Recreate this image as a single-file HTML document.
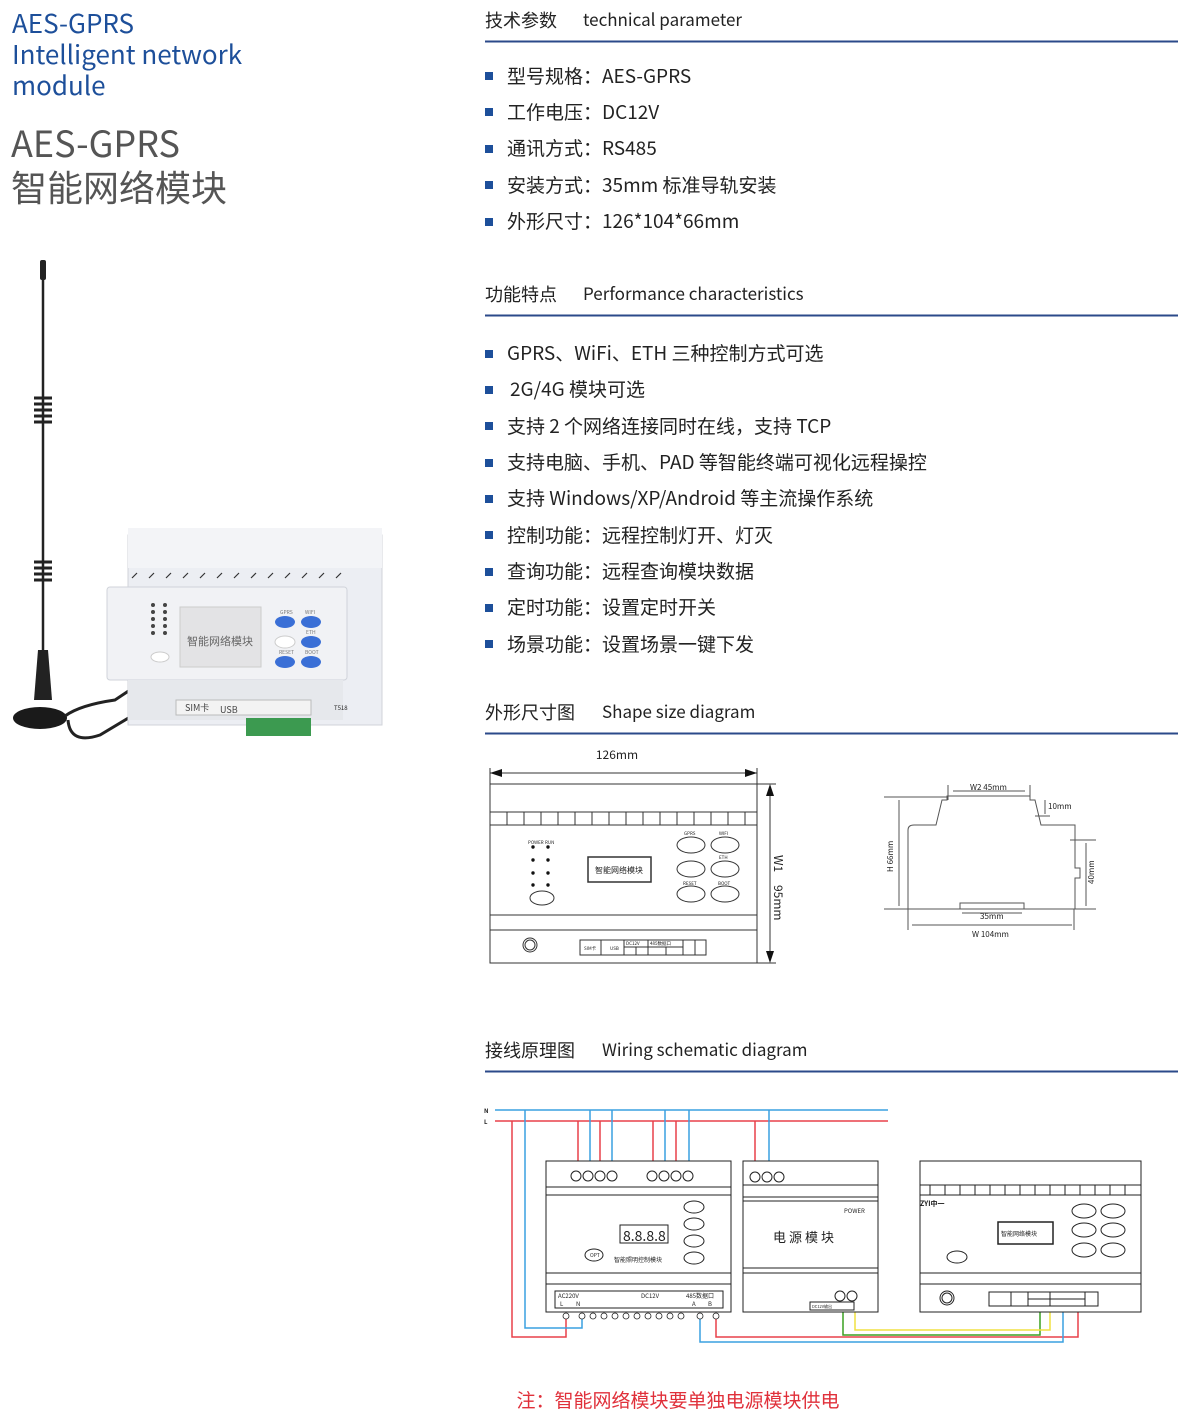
<!DOCTYPE html>
<html><head><meta charset="utf-8">
<style>
html,body{margin:0;padding:0;background:#fff;}
svg{display:block;}
text{font-family:"Noto Sans CJK SC","Liberation Sans",sans-serif;}
</style></head><body>
<svg width="1190" height="1421" viewBox="0 0 1190 1421" xmlns="http://www.w3.org/2000/svg">
<!-- Left titles -->
<g fill="#1d4f9a" font-size="26">
<text x="12" y="33">AES-GPRS</text>
<text x="12" y="64">Intelligent network</text>
<text x="12" y="95">module</text>
</g>
<g fill="#555" font-size="36">
<text x="11" y="157">AES-GPRS</text>
<text x="11" y="201">智能网络模块</text>
</g>

<!-- Product photo -->
<g>
<line x1="43" y1="262" x2="43" y2="700" stroke="#222" stroke-width="2.5"/>
<rect x="40" y="260" width="6" height="20" rx="2" fill="#222"/>
<g stroke="#222" stroke-width="3" fill="none">
<path d="M34 398 h18 M34 404 h18 M34 410 h18 M34 416 h18 M34 422 h18"/>
<path d="M34 562 h18 M34 568 h18 M34 574 h18 M34 580 h18"/>
</g>
<path d="M38 650 L48 650 L52 700 L34 700 Z" fill="#222"/>
<ellipse cx="40" cy="718" rx="27" ry="11" fill="#1a1a1a"/>
<path d="M65 716 Q80 705 115 700 L130 690 M68 720 Q70 745 100 735 L150 705" stroke="#222" stroke-width="3" fill="none"/>
<circle cx="157" cy="700" r="6" fill="#c9a040"/>
<!-- device -->
<path d="M128 535 L382 535 L382 725 L128 725 Z" fill="#eceef3" stroke="#d0d3da"/>
<rect x="128" y="528" width="254" height="40" fill="#f3f4f7"/>
<rect x="107" y="587" width="240" height="93" rx="3" fill="#f1f2f5" stroke="#d0d3da"/>
<rect x="128" y="680" width="215" height="40" fill="#e6e8ec"/>
<g stroke="#333" stroke-width="1.2">
<path d="M132 578 l5-5 M149 578 l5-5 M166 578 l5-5 M183 578 l5-5 M200 578 l5-5 M217 578 l5-5 M234 578 l5-5 M251 578 l5-5 M268 578 l5-5 M285 578 l5-5 M302 578 l5-5 M319 578 l5-5 M336 578 l5-5"/>
</g>
<rect x="180" y="607" width="81" height="60" fill="#e3e3e5" stroke="#ccc"/>
<text x="220" y="645" font-size="11" fill="#666" text-anchor="middle">智能网络模块</text>
<g fill="#444"><circle cx="153" cy="605" r="2"/><circle cx="153" cy="612" r="2"/><circle cx="153" cy="619" r="2"/><circle cx="153" cy="626" r="2"/><circle cx="153" cy="633" r="2"/><circle cx="165" cy="605" r="2"/><circle cx="165" cy="612" r="2"/><circle cx="165" cy="619" r="2"/><circle cx="165" cy="626" r="2"/><circle cx="165" cy="633" r="2"/></g>
<ellipse cx="160" cy="657" rx="9" ry="5" fill="#fff" stroke="#ccc"/>
<g fill="#3a6fd6"><ellipse cx="285" cy="622" rx="10" ry="6"/><ellipse cx="311" cy="622" rx="10" ry="6"/><ellipse cx="311" cy="642" rx="10" ry="6"/><ellipse cx="285" cy="662" rx="10" ry="6"/><ellipse cx="311" cy="662" rx="10" ry="6"/></g>
<ellipse cx="285" cy="642" rx="10" ry="6" fill="#fff" stroke="#ccc"/>
<g font-size="5" fill="#777"><text x="280" y="614">GPRS</text><text x="305" y="614">WIFI</text><text x="306" y="634">ETH</text><text x="279" y="654">RESET</text><text x="305" y="654">BOOT</text></g>
<rect x="176" y="700" width="135" height="15" fill="#f3f3f3" stroke="#bbb"/>
<text x="185" y="711" font-size="9" fill="#444">SIM卡</text>
<text x="220" y="713" font-size="9" fill="#444">USB</text>
<rect x="246" y="718" width="65" height="18" fill="#3c9a50"/>
<text x="334" y="710" font-size="6" fill="#222">T518</text>
</g>

<!-- Right sections headers -->
<g font-size="18" fill="#222">
<text x="485" y="27">技术参数</text>
<text x="485" y="301">功能特点</text>
<text x="485" y="719">外形尺寸图</text>
<text x="485" y="1057">接线原理图</text>
</g>
<g font-size="17" fill="#222">
<text x="583" y="26">technical parameter</text>
<text x="583" y="300">Performance characteristics</text>
<text x="602" y="718">Shape size diagram</text>
<text x="602" y="1056">Wiring schematic diagram</text>
</g>
<g stroke="#2b4a8a" stroke-width="2">
<line x1="485" y1="41.5" x2="1178" y2="41.5"/>
<line x1="485" y1="315.5" x2="1178" y2="315.5"/>
<line x1="485" y1="733.5" x2="1178" y2="733.5"/>
<line x1="485" y1="1071.5" x2="1178" y2="1071.5"/>
</g>
<g fill="#1d4f9a">
<rect x="485" y="72" width="8" height="8"/><rect x="485" y="108" width="8" height="8"/><rect x="485" y="145" width="8" height="8"/><rect x="485" y="181" width="8" height="8"/><rect x="485" y="218" width="8" height="8"/>
<rect x="485" y="350" width="8" height="8"/><rect x="485" y="386" width="8" height="8"/><rect x="485" y="422" width="8" height="8"/><rect x="485" y="459" width="8" height="8"/><rect x="485" y="495" width="8" height="8"/><rect x="485" y="531" width="8" height="8"/><rect x="485" y="568" width="8" height="8"/><rect x="485" y="604" width="8" height="8"/><rect x="485" y="640" width="8" height="8"/>
</g>
<g font-size="19" fill="#222">
<text x="507" y="83">型号规格：AES-GPRS</text>
<text x="507" y="119">工作电压：DC12V</text>
<text x="507" y="155">通讯方式：RS485</text>
<text x="507" y="192">安装方式：35mm 标准导轨安装</text>
<text x="507" y="228">外形尺寸：126*104*66mm</text>
<text x="507" y="360">GPRS、WiFi、ETH 三种控制方式可选</text>
<text x="510" y="396">2G/4G 模块可选</text>
<text x="507" y="433">支持 2 个网络连接同时在线，支持 TCP</text>
<text x="507" y="469">支持电脑、手机、PAD 等智能终端可视化远程操控</text>
<text x="507" y="505">支持 Windows/XP/Android 等主流操作系统</text>
<text x="507" y="542">控制功能：远程控制灯开、灯灭</text>
<text x="507" y="578">查询功能：远程查询模块数据</text>
<text x="507" y="614">定时功能：设置定时开关</text>
<text x="507" y="651">场景功能：设置场景一键下发</text>
</g>

<!-- Shape size diagram: front -->
<g stroke="#333" fill="none" stroke-width="1">
<rect x="490" y="784" width="267" height="179"/>
<line x1="490" y1="812" x2="757" y2="812"/>
<line x1="490" y1="825" x2="757" y2="825"/>
<line x1="490" y1="915" x2="757" y2="915"/>
<line x1="490" y1="930" x2="757" y2="930"/>
<path d="M507 812v13M524 812v13M541 812v13M558 812v13M575 812v13M592 812v13M609 812v13M626 812v13M643 812v13M660 812v13M677 812v13M694 812v13M711 812v13M728 812v13M745 812v13"/>
<line x1="490" y1="773" x2="757" y2="773"/>
<line x1="490" y1="768" x2="490" y2="784"/><line x1="757" y1="768" x2="757" y2="784"/>
<line x1="770" y1="786" x2="770" y2="961"/>
<line x1="757" y1="784" x2="776" y2="784"/><line x1="757" y1="963" x2="776" y2="963"/>
<rect x="588" y="857" width="63" height="25" stroke-width="1.5"/>
<ellipse cx="542" cy="898" rx="12" ry="7"/>
<ellipse cx="691" cy="845" rx="14" ry="8"/><ellipse cx="725" cy="845" rx="14" ry="8"/>
<ellipse cx="691" cy="869" rx="14" ry="8"/><ellipse cx="725" cy="869" rx="14" ry="8"/>
<ellipse cx="691" cy="894" rx="14" ry="8"/><ellipse cx="725" cy="894" rx="14" ry="8"/>
<circle cx="530" cy="945" r="7"/><circle cx="530" cy="945" r="5"/>
<rect x="580" y="940" width="126" height="15"/>
<path d="M601 940v15M624 940v15M648 940v15M683 940v15M695 940v15M624 947h59M636 947v8M666 947v8"/>
</g>
<g fill="#111"><path d="M490 773 l12 -4 v8z"/><path d="M757 773 l-12 -4 v8z"/><path d="M770 784 l-4 12 h8z"/><path d="M770 963 l-4 -12 h8z"/></g>
<text x="617" y="759" font-size="12" fill="#222" text-anchor="middle">126mm</text>
<text transform="translate(774,855) rotate(90)" font-size="12" fill="#222">W1</text>
<text transform="translate(774,885) rotate(90)" font-size="12" fill="#222">95mm</text>
<text x="619" y="873" font-size="8" fill="#222" text-anchor="middle">智能网络模块</text>
<g fill="#111"><circle cx="533" cy="847" r="1.7"/><circle cx="548" cy="847" r="1.7"/><circle cx="533" cy="860" r="1.7"/><circle cx="548" cy="860" r="1.7"/><circle cx="533" cy="873" r="1.7"/><circle cx="548" cy="873" r="1.7"/><circle cx="533" cy="885" r="1.7"/><circle cx="548" cy="885" r="1.7"/></g>
<g font-size="4.5" fill="#222"><text x="528" y="844">POWER</text><text x="545" y="844">RUN</text><text x="684" y="835">GPRS</text><text x="719" y="835">WIFI</text><text x="719" y="859">ETH</text><text x="683" y="885">RESET</text><text x="718" y="885">BOOT</text><text x="584" y="950">SIM卡</text><text x="610" y="950">USB</text><text x="626" y="945">DC12V</text><text x="650" y="945">485数据口</text></g>

<!-- side profile -->
<g stroke="#555" fill="none" stroke-width="1">
<path d="M908 909 V830 Q908 825 914 825 H936 L942 800 H947 V796 H1030 V800 H1035 L1041 825 H1075 V868 H1080 V878 H1075 V909 H1024 V903 H960 V909 Z"/>
<line x1="884" y1="797" x2="947" y2="797"/><line x1="884" y1="909" x2="1096" y2="909"/>
<line x1="1070" y1="840" x2="1096" y2="840"/><line x1="1035" y1="816" x2="1050" y2="816"/>
<line x1="899" y1="800" x2="899" y2="906"/>
<line x1="1086" y1="843" x2="1086" y2="906"/>
<line x1="953" y1="791" x2="1025" y2="791"/>
<line x1="948" y1="785" x2="948" y2="800"/><line x1="1030" y1="785" x2="1030" y2="800"/>
<line x1="1045" y1="800" x2="1045" y2="814"/>
<line x1="962" y1="913" x2="1022" y2="913"/>
<line x1="912" y1="925" x2="1072" y2="925"/>
<line x1="908" y1="909" x2="908" y2="930"/><line x1="1074" y1="909" x2="1074" y2="930"/>
</g>
<g font-size="8" fill="#222"><text x="970" y="790">W2  45mm</text><text x="1048" y="809">10mm</text><text x="980" y="919">35mm</text><text x="972" y="937">W    104mm</text>
<text transform="translate(893,872) rotate(-90)">H    66mm</text><text transform="translate(1094,884) rotate(-90)">40mm</text></g>

<!-- Wiring -->
<g fill="none" stroke-width="1.5">
<line x1="495" y1="1110" x2="888" y2="1110" stroke="#3aa0e0"/>
<line x1="495" y1="1121" x2="888" y2="1121" stroke="#e8414a"/>
<path d="M512 1121 V1337 H566 V1316" stroke="#e8414a"/>
<path d="M525 1110 V1328 H582 V1316" stroke="#3aa0e0"/>
<path d="M578 1121V1178M600 1121V1178M653 1121V1178M676 1121V1178M755 1121V1168" stroke="#e8414a"/>
<path d="M590 1110V1178M612 1110V1178M665 1110V1178M689 1110V1178M769 1110V1168" stroke="#3aa0e0"/>
<path d="M843 1310 V1335 H1040 V1297" stroke="#3aa020"/>
<path d="M855 1310 V1330 H1050 V1297" stroke="#f0e040"/>
<path d="M716 1316 V1337 H1078 V1297" stroke="#e8414a"/>
<path d="M700 1316 V1342 H1063 V1297" stroke="#3aa0e0"/>
</g>
<text x="484" y="1113" font-size="6" fill="#222" font-weight="bold">N</text>
<text x="484" y="1124" font-size="6" fill="#222" font-weight="bold">L</text>
<g fill="#fff" stroke="#222" stroke-width="1">
<rect x="546" y="1161" width="185" height="151"/>
<rect x="743" y="1161" width="135" height="151"/>
<rect x="920" y="1161" width="221" height="151"/>
</g>
<g stroke="#222" stroke-width="1" fill="none">
<path d="M546 1187H731M546 1195H731M546 1273H731M546 1284H731"/>
<path d="M743 1185H878M743 1197H878M743 1201H878M743 1268H878M743 1273H878"/>
<path d="M920 1185H1141M920 1195H1141M920 1273H1141M920 1284H1141"/>
<path d="M930 1185v10M945 1185v10M960 1185v10M975 1185v10M990 1185v10M1005 1185v10M1020 1185v10M1035 1185v10M1050 1185v10M1065 1185v10M1080 1185v10M1095 1185v10M1110 1185v10M1125 1185v10"/>
<rect x="555" y="1291" width="168" height="17"/>
<rect x="620" y="1225" width="48" height="18"/>
<ellipse cx="694" cy="1207" rx="10" ry="6"/><ellipse cx="694" cy="1224" rx="10" ry="6"/><ellipse cx="694" cy="1241" rx="10" ry="6"/><ellipse cx="694" cy="1258" rx="10" ry="6"/>
<ellipse cx="594" cy="1255" rx="9" ry="6"/>
<rect x="998" y="1222" width="55" height="22" stroke-width="1.5"/>
<ellipse cx="1084" cy="1211" rx="12" ry="7"/><ellipse cx="1113" cy="1211" rx="12" ry="7"/>
<ellipse cx="1084" cy="1230" rx="12" ry="7"/><ellipse cx="1113" cy="1230" rx="12" ry="7"/>
<ellipse cx="1084" cy="1250" rx="12" ry="7"/><ellipse cx="1113" cy="1250" rx="12" ry="7"/>
<ellipse cx="957" cy="1257" rx="10" ry="6"/>
<circle cx="947" cy="1298" r="7"/><circle cx="947" cy="1298" r="5"/>
<rect x="989" y="1292" width="109" height="14"/>
<path d="M1011 1292v14M1028 1292v14M1050 1292v14M1085 1292v14M1028 1299h57"/>
<rect x="810" y="1302" width="44" height="8"/>
</g>
<g fill="#fff" stroke="#222" stroke-width="1">
<circle cx="576" cy="1176" r="5"/><circle cx="588" cy="1176" r="5"/><circle cx="600" cy="1176" r="5"/><circle cx="612" cy="1176" r="5"/>
<circle cx="652" cy="1176" r="5"/><circle cx="664" cy="1176" r="5"/><circle cx="676" cy="1176" r="5"/><circle cx="688" cy="1176" r="5"/>
<circle cx="755" cy="1177" r="5"/><circle cx="767" cy="1177" r="5"/><circle cx="779" cy="1177" r="5"/>
<circle cx="840" cy="1296" r="5"/><circle cx="852" cy="1296" r="5"/>
</g>
<g fill="#fff" stroke="#222" stroke-width="0.8">
<circle cx="566" cy="1316" r="3"/><circle cx="582" cy="1316" r="3"/><circle cx="593" cy="1316" r="3"/><circle cx="604" cy="1316" r="3"/><circle cx="615" cy="1316" r="3"/><circle cx="626" cy="1316" r="3"/><circle cx="637" cy="1316" r="3"/><circle cx="648" cy="1316" r="3"/><circle cx="659" cy="1316" r="3"/><circle cx="670" cy="1316" r="3"/><circle cx="681" cy="1316" r="3"/><circle cx="700" cy="1316" r="3"/><circle cx="716" cy="1316" r="3"/>
</g>
<g font-size="6" fill="#222">
<text x="558" y="1298">AC220V</text><text x="560" y="1306">L</text><text x="576" y="1306">N</text>
<text x="641" y="1298">DC12V</text><text x="686" y="1298">485数据口</text><text x="692" y="1306">A</text><text x="708" y="1306">B</text>
<text x="614" y="1262">智能照明控制模块</text>
<text x="590" y="1257" font-size="5">OPT</text>
<text x="844" y="1213">POWER</text>
<text x="1001" y="1236">智能网络模块</text>
<text x="812" y="1308" font-size="4">DC12V输出</text>
<text x="920" y="1206" font-size="7" font-weight="bold">ZYI中一</text>
</g>
<text x="623" y="1241" font-size="14" fill="#222" font-family="Liberation Mono,monospace">8.8.8.8</text>
<text x="805" y="1242" font-size="13" fill="#222" text-anchor="middle" font-family="'Noto Serif CJK SC',serif" letter-spacing="3">电源模块</text>

<text x="678" y="1407" font-size="19" fill="#e0303a" text-anchor="middle">注：智能网络模块要单独电源模块供电</text>
</svg>
</body></html>
